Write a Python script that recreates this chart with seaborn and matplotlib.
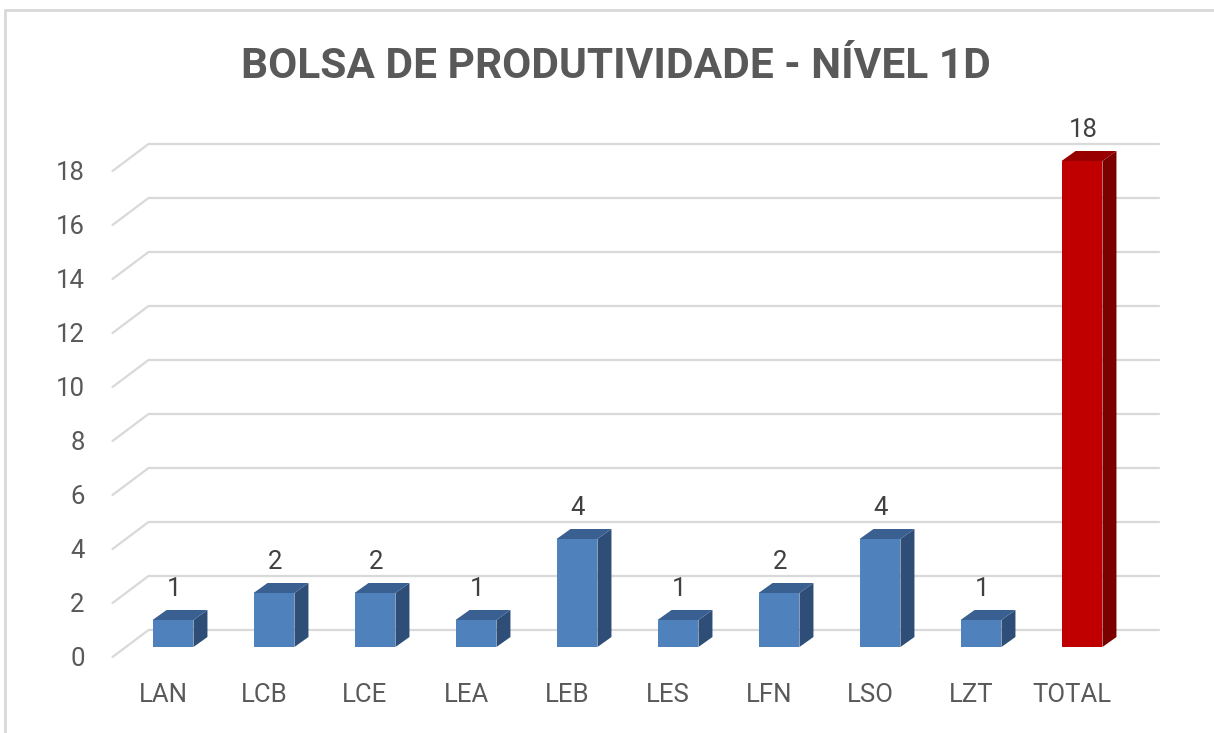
import matplotlib
matplotlib.use("Agg")
import matplotlib.pyplot as plt
from matplotlib.patches import Polygon
from matplotlib.lines import Line2D
import seaborn as sns

# data
categories = ["LAN", "LCB", "LCE", "LEA", "LEB", "LES", "LFN", "LSO", "LZT", "TOTAL"]
values = [1, 2, 2, 1, 4, 1, 2, 4, 1, 18]
yticks = list(range(0, 19, 2))
title = "BOLSA DE PRODUTIVIDADE - NÍVEL 1D"

FRONT = {"blue": "#4f81bd", "red": "#c00000"}
SIDE = {"blue": "#2e4e78", "red": "#7b0000"}
TOP = {"blue": "#3a5f91", "red": "#980000"}
bar_kind = ["red" if c == "TOTAL" else "blue" for c in categories]

sns.set_theme(style="white")
plt.rcParams["font.family"] = ["Roboto", "DejaVu Sans"]

W, H = 1214, 733
fig = plt.figure(figsize=(W / 100, H / 100), dpi=100)
fig.patch.set_facecolor("white")

# front plane of the fake 3d box, in pixels
x_left, x_right = 112.5, 1122.5
y_zero, y_top = 657, 171
ax = fig.add_axes([x_left / W, (H - y_zero) / H, (x_right - x_left) / W, (y_zero - y_top) / H])
ax.set_xlim(-0.5, 9.5)
ax.set_ylim(0, 18)

px_x = (x_right - x_left) / 10.0   # pixels per category
px_y = (y_zero - y_top) / 18.0     # pixels per unit
back_dx, back_dy = 36 / px_x, 27 / px_y   # wall depth
bar_dx, bar_dy = 10 / px_x, 10 / px_y     # where bar front sits
side_dx, side_dy = 14 / px_x, 10 / px_y   # bar depth

grid_col = "#d9d9d9"
for v in yticks:
    ax.add_line(Line2D([-0.5 + back_dx, 9.5 + back_dx], [v + back_dy, v + back_dy],
                       color=grid_col, lw=1.6, clip_on=False, zorder=0))
    ax.add_line(Line2D([-0.5, -0.5 + back_dx], [v, v + back_dy],
                       color=grid_col, lw=1.6, clip_on=False, zorder=0))

palette = [FRONT[k] for k in bar_kind]
sns.barplot(x=categories, y=values, hue=categories, palette=palette, legend=False,
            width=0.405, saturation=1, ax=ax, zorder=2, edgecolor="none", linewidth=0)

for p, kind in zip(ax.patches, bar_kind):
    p.set_x(p.get_x() + bar_dx)
    p.set_y(bar_dy)
    p.set_clip_on(False)
    x0, x1 = p.get_x(), p.get_x() + p.get_width()
    y0, y1 = p.get_y(), p.get_y() + p.get_height()
    side = Polygon([(x1, y0), (x1, y1), (x1 + side_dx, y1 + side_dy), (x1 + side_dx, y0 + side_dy)],
                   closed=True, facecolor=SIDE[kind], edgecolor="none", zorder=2, clip_on=False)
    top = Polygon([(x0, y1), (x1, y1), (x1 + side_dx, y1 + side_dy), (x0 + side_dx, y1 + side_dy)],
                  closed=True, facecolor=TOP[kind], edgecolor="none", zorder=2, clip_on=False)
    ax.add_patch(side)
    ax.add_patch(top)
    ax.text(x0 + p.get_width() / 2 + 0.01, y1 + 31 / px_y, str(int(p.get_height())),
            ha="center", va="center", fontsize=18.5, color="#404040", clip_on=False)

ax.set_yticks(yticks)
ax.set_yticklabels([str(t) for t in yticks])
ax.tick_params(axis="y", length=0, pad=20, labelsize=18.5, labelcolor="#595959")
ax.tick_params(axis="x", length=0, pad=19, labelsize=18.5, labelcolor="#595959")
ax.set_xlabel("")
ax.set_ylabel("")
for s in ax.spines.values():
    s.set_visible(False)
ax.set_facecolor("none")

fig.text(616 / W, 1 - 67 / H, title, ha="center", va="center", fontsize=30.5,
         fontweight="bold", color="#595959")

# chart frame
fig.add_artist(Line2D([5 / W, 5 / W], [0, 1 - 10 / H], color="#d9d9d9", lw=2, transform=fig.transFigure))
fig.add_artist(Line2D([5 / W, 1], [1 - 10 / H, 1 - 10 / H], color="#d9d9d9", lw=2, transform=fig.transFigure))

fig.savefig("out.png", dpi=100)
